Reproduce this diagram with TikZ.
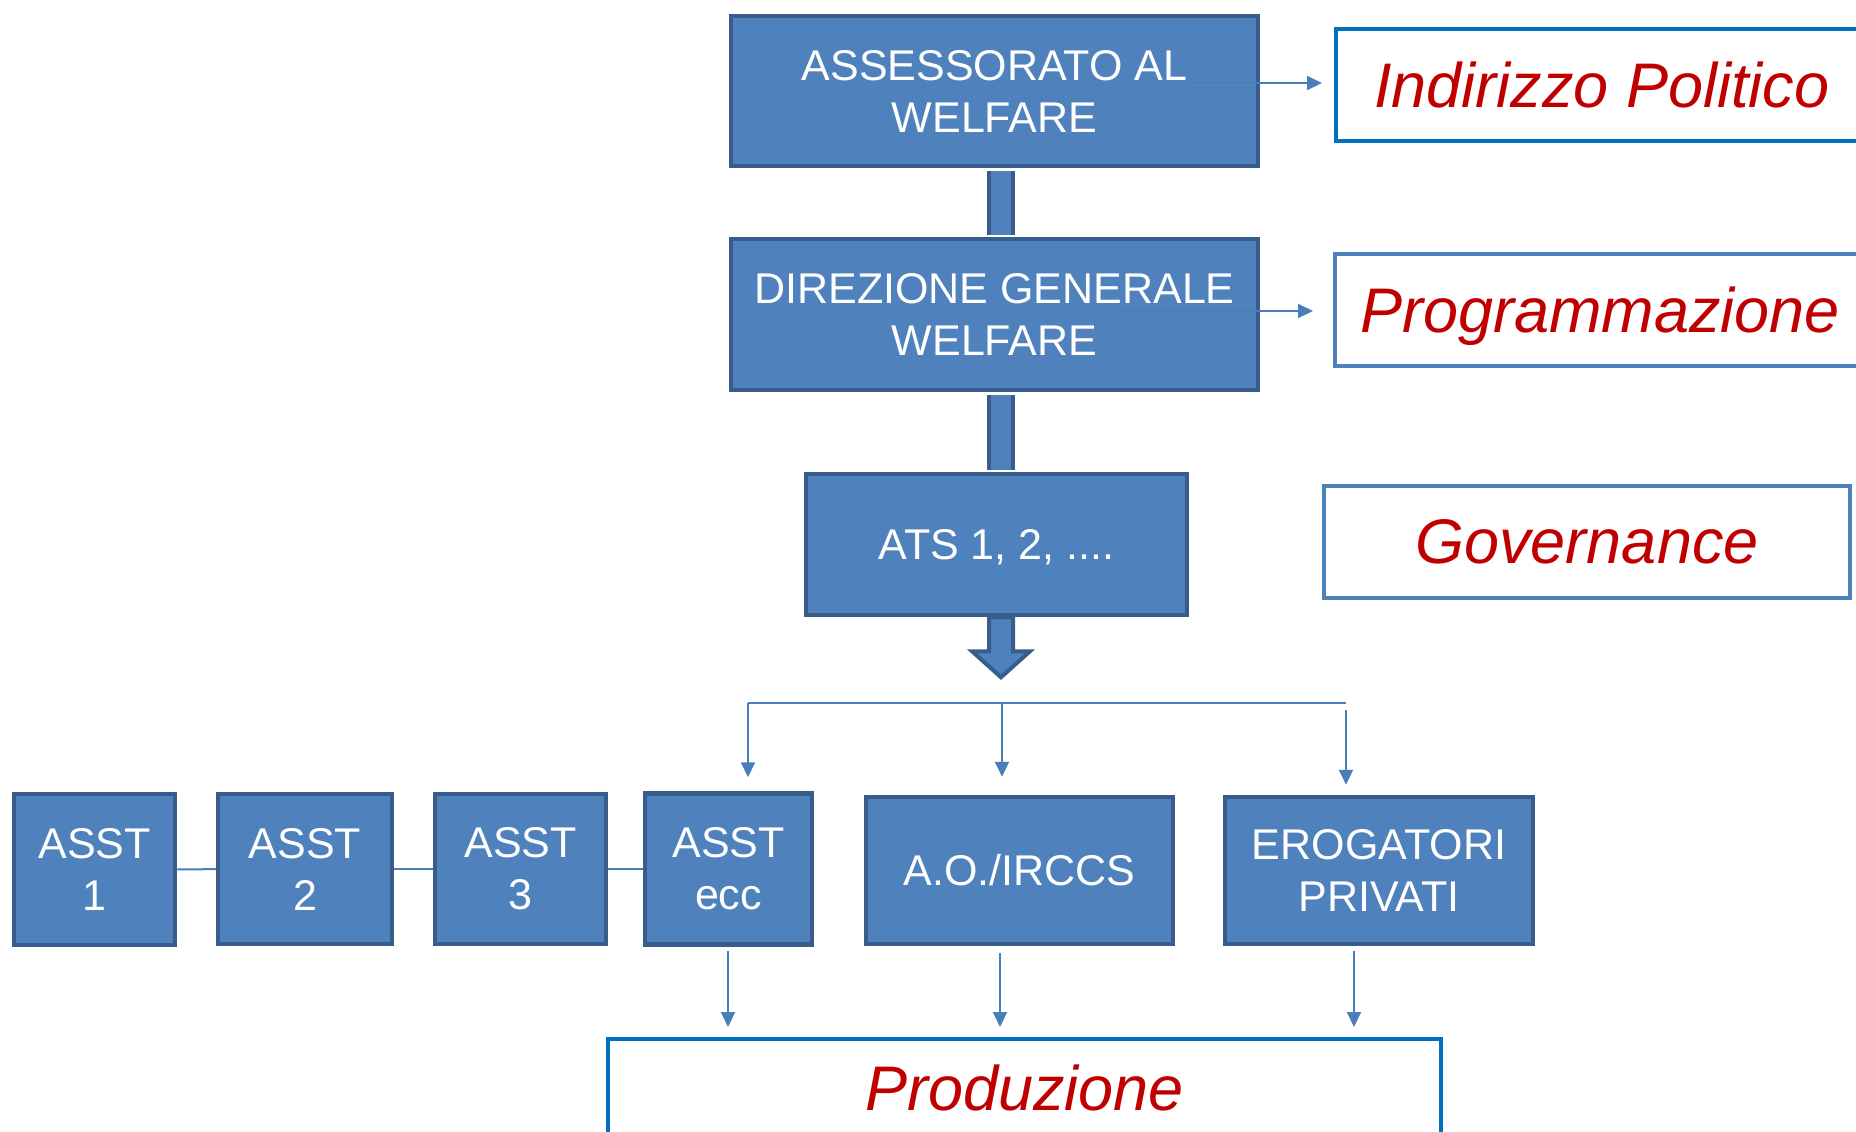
\documentclass[tikz,border=0pt]{standalone}
\usepackage{fontspec}
\setmainfont{Liberation Sans}
\usetikzlibrary{arrows.meta}
\definecolor{boxfill}{HTML}{4F81BD}
\definecolor{boxedge}{HTML}{385D8A}
\definecolor{linkblue}{HTML}{4A7EBB}
\definecolor{strongblue}{HTML}{0070C0}
\definecolor{labelred}{HTML}{C00000}

\begin{document}
\begin{tikzpicture}[x=1pt,y=-1pt,
    ente/.style={draw=boxedge, fill=boxfill, line width=4.5pt, text=white, align=center,
        font=\fontsize{43}{52}\selectfont, inner sep=0pt},
    livello/.style={draw=#1, fill=white, line width=4pt, text=labelred, inner sep=0pt,
        font=\fontsize{63}{70}\selectfont\itshape, text depth=0pt},
    freccia/.style={draw=linkblue, line width=2pt, -{Triangle[width=14pt,length=15pt]}},
    filo/.style={draw=linkblue, line width=2pt},
    barra/.style={draw=boxedge, line width=4pt, double=boxfill, double distance=20pt,
        shorten <=2.25pt, shorten >=2.25pt}]
    \path[use as bounding box, clip] (0,0) rectangle (1856,1132);

    % Regione
    \node[ente, minimum width=527pt, minimum height=150pt] (ass) at (994.5,91) {ASSESSORATO AL\\WELFARE};
    \node[ente, minimum width=527pt, minimum height=151pt] (dir) at (994.5,314.5) {DIREZIONE GENERALE\\WELFARE};
    \node[ente, minimum width=381pt, minimum height=141pt, text depth=0pt] (ats) at (996.5,544.5) {ATS 1, 2, ....};

    % Barre tra i livelli
    \draw[barra] ([xshift=6.5pt]ass.south) -- ([xshift=6.5pt]dir.north);
    \draw[barra] ([xshift=6.5pt]dir.south) -- ([xshift=4.5pt]ats.north);
    \draw[draw=boxedge, fill=boxfill, line width=4pt] ([xshift=-7.5pt]ats.south) -- ++(0,34) -- ++(-17,0)
        -- ++(29,26) -- ++(29,-26) -- ++(-17,0) -- ++(0,-34) -- cycle;

    % Erogatori
    \node[ente, minimum width=161pt, minimum height=151pt] (asst1) at (94.5,869.5) {ASST\\1};
    \node[ente, minimum width=174pt, minimum height=150pt] (asst2) at (305,869) {ASST\\2};
    \node[ente, minimum width=171pt, minimum height=150pt] (asst3) at (520.5,869) {ASST\\3};
    \node[ente, minimum width=167pt, minimum height=151pt] (asste) at (728.5,869) {ASST\\ecc};
    \node[ente, minimum width=307pt, minimum height=147pt] (ao) at (1019.5,870.5) {A.O./IRCCS};
    \node[ente, minimum width=308pt, minimum height=147pt] (erog) at (1379,870.5) {EROGATORI\\PRIVATI};

    \draw[filo] (asst1) -- (asst2);
    \draw[filo] (asst2) -- (asst3);
    \draw[filo] (asst3) -- (asste);

    % Funzioni
    \node[livello=strongblue, minimum width=532pt, minimum height=112pt] (ind) at (1602,85) {Indirizzo Politico};
    \node[livello=boxfill, minimum width=530pt, minimum height=112pt] (prog) at (1600,310) {Programmazione};
    \node[livello=boxfill, minimum width=526pt, minimum height=112pt] (gov) at (1587,542) {Governance};
    \node[livello=strongblue, minimum width=833pt, minimum height=97pt] (prod) at (1024.5,1087.5) {Produzione};

    \coordinate (a1) at (1191,83);
    \coordinate (a2) at (1122,311);
    \draw[freccia, shorten >=12pt] (a1) -- (a1 -| ind.west);
    \draw[freccia, shorten >=20pt] (a2) -- (a2 -| prog.west);

    % Ramificazione sotto ATS
    \coordinate (fanL) at (748,703);
    \coordinate (fanM) at (1002,703);
    \coordinate (fanR) at (1346,703);
    \draw[filo] (fanL) -- (fanR);
    \draw[freccia, shorten >=14pt] (fanL) -- (fanL |- asste.north);
    \draw[freccia, shorten >=18pt] (fanM) -- (fanM |- ao.north);
    \draw[freccia, shorten <=7pt, shorten >=10pt] (fanR) -- (fanR |- erog.north);

    % Verso la produzione
    \coordinate (outE) at (728,951);
    \coordinate (outA) at (1000,953);
    \coordinate (outP) at (1354,951);
    \draw[freccia, shorten >=10pt] (outE) -- (outE |- prod.north);
    \draw[freccia, shorten >=10pt] (outA) -- (outA |- prod.north);
    \draw[freccia, shorten >=10pt] (outP) -- (outP |- prod.north);
\end{tikzpicture}
\end{document}
